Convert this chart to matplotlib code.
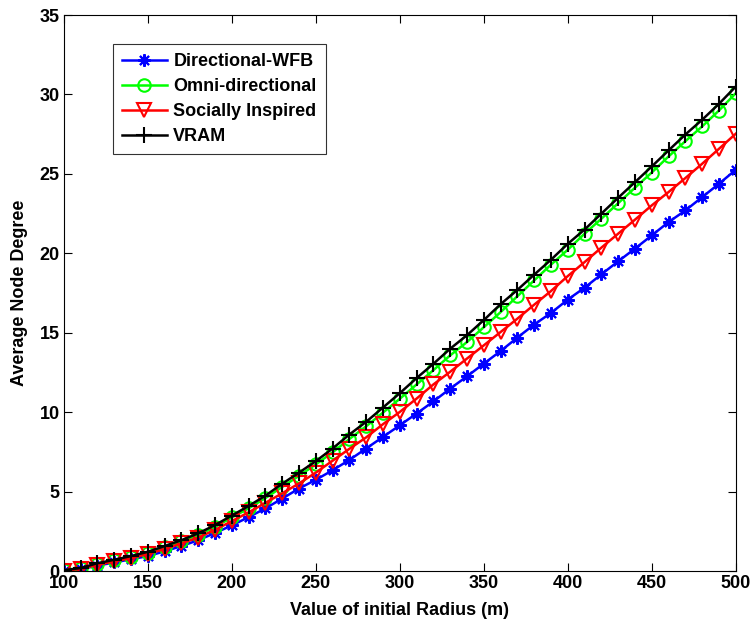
#!/usr/bin/env python3
"""Average node degree vs initial radius."""

import matplotlib

matplotlib.use("Agg")
import matplotlib.pyplot as plt


radius = list(range(100, 501, 10))

directional_wfb = [
    0.02, 0.12, 0.35, 0.55, 0.75, 0.95, 1.25, 1.58, 1.95, 2.40,
    2.88, 3.40, 3.95, 4.57, 5.20, 5.75, 6.35, 7.00, 7.72, 8.45,
    9.18, 9.92, 10.68, 11.49, 12.26, 13.06, 13.85, 14.70, 15.52, 16.25,
    17.09, 17.84, 18.68, 19.50, 20.30, 21.13, 21.97, 22.70, 23.54, 24.38,
    25.26,
]
omni_directional = [
    0.05, 0.18, 0.45, 0.68, 0.90, 1.17, 1.50, 1.87, 2.28, 2.78,
    3.38, 3.95, 4.60, 5.30, 6.00, 6.72, 7.48, 8.32, 9.12, 9.98,
    10.85, 11.75, 12.65, 13.58, 14.42, 15.35, 16.30, 17.30, 18.30, 19.29,
    20.23, 21.24, 22.18, 23.16, 24.13, 25.09, 26.10, 27.06, 27.99, 28.99,
    30.08,
]
socially_inspired = [
    0.02, 0.15, 0.40, 0.62, 0.82, 1.08, 1.40, 1.75, 2.12, 2.60,
    3.15, 3.70, 4.30, 4.90, 5.52, 6.20, 6.95, 7.70, 8.42, 9.25,
    10.02, 10.86, 11.75, 12.55, 13.38, 14.21, 15.05, 15.89, 16.77, 17.63,
    18.57, 19.45, 20.36, 21.24, 22.12, 23.02, 23.86, 24.74, 25.64, 26.58,
    27.53,
]
vram = [
    0.06, 0.20, 0.50, 0.72, 0.95, 1.22, 1.58, 1.95, 2.38, 2.90,
    3.50, 4.10, 4.75, 5.50, 6.20, 6.92, 7.72, 8.60, 9.40, 10.30,
    11.20, 12.15, 13.05, 14.00, 14.85, 15.80, 16.80, 17.70, 18.66, 19.60,
    20.60, 21.50, 22.50, 23.50, 24.48, 25.47, 26.48, 27.48, 28.41, 29.41,
    30.50,
]

x_ticks = [100, 150, 200, 250, 300, 350, 400, 450, 500]
y_ticks = [0, 5, 10, 15, 20, 25, 30, 35]


def main():
    plt.rcParams["font.family"] = "Liberation Sans"
    fig = plt.figure(figsize=(7.5, 6.27), dpi=100)
    ax = fig.add_axes([0.085, 0.089, 0.896, 0.887])

    ax.plot(radius, directional_wfb, color="#0000ff", marker=(8, 2, 0),
            markersize=9, markeredgewidth=1.5, linewidth=1.8,
            label="Directional-WFB")
    ax.plot(radius, omni_directional, color="#00ff00", marker="o",
            markerfacecolor="none", markersize=9, markeredgewidth=1.5,
            linewidth=1.8, label="Omni-directional")
    ax.plot(radius, socially_inspired, color="#ff0000", marker="v",
            markerfacecolor="none", markersize=10, markeredgewidth=1.5,
            linewidth=1.8, label="Socially Inspired")
    ax.plot(radius, vram, color="black", marker="+", markersize=11,
            markeredgewidth=1.5, linewidth=1.8, label="VRAM")

    ax.set_xlim(100, 500)
    ax.set_ylim(0, 35)
    ax.set_xticks(x_ticks)
    ax.set_yticks(y_ticks)
    ax.tick_params(direction="in", top=True, right=True, length=6,
                   labelsize=13, pad=3)
    for lab in ax.get_xticklabels() + ax.get_yticklabels():
        lab.set_fontweight("bold")

    ax.set_xlabel("Value of initial Radius (m)", fontsize=13,
                  fontweight="bold", labelpad=7)
    ax.set_ylabel("Average Node Degree", fontsize=13, fontweight="bold",
                  labelpad=8)

    leg = ax.legend(loc="upper left", bbox_to_anchor=(0.073, 0.948),
                    borderaxespad=0, fancybox=False, edgecolor="black",
                    handlelength=2.5, handletextpad=0.35, borderpad=0.5,
                    prop={"size": 13, "weight": "bold"}, labelspacing=0.45)
    leg.get_frame().set_linewidth(0.8)

    fig.savefig("out.png", dpi=100)
    plt.close(fig)


if __name__ == "__main__":
    main()
